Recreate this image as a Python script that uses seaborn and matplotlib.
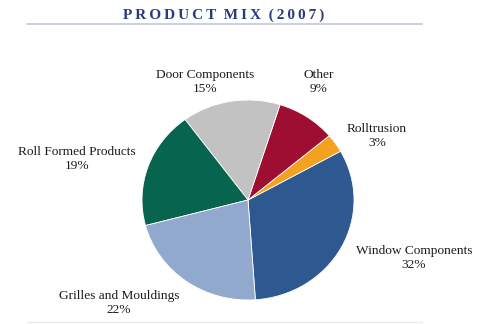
import matplotlib
matplotlib.use("Agg")
import matplotlib.pyplot as plt
import seaborn as sns

sns.set_style("white")
plt.rcParams['font.family'] = ['Liberation Serif', 'DejaVu Serif']

categories = ["Window Components", "Rolltrusion", "Other", "Door Components",
              "Roll Formed Products", "Grilles and Mouldings"]
values = [32, 3, 9, 15, 19, 22]
colors = ["#2E5890", "#F4A020", "#9E0E32", "#C2C2C2", "#07644F", "#91A9CD"]
title = "PRODUCT MIX (2007)"
# label anchor positions in pixels (x, y from top)
label_pos = [(414, 258), (377, 136), (319, 82), (205, 82), (77, 159), (119, 303)]

W, H = 479, 324
fig = plt.figure(figsize=(W / 100, H / 100), dpi=100)
cx, cy, rx, ry = 248, 200, 106, 100
ax = fig.add_axes([(cx - rx) / W, 1 - (cy + ry) / H, 2 * rx / W, 2 * ry / H])
ax.pie(values, colors=colors, startangle=-86, counterclock=True,
       wedgeprops=dict(edgecolor="white", linewidth=0.6))
ax.set_aspect('auto')
ax.set_xlim(-1, 1)
ax.set_ylim(-1, 1)
ax.axis('off')

for cat, v, (px, py) in zip(categories, values, label_pos):
    fig.text(px / W, 1 - py / H, f"{cat}\n{v}%", ha='center', va='center',
             fontsize=9.6, color="#1a1a1a", linespacing=1.3)

spaced = "\u2009".join(title).replace("\u2009 \u2009", "  ")
fig.text(224 / W, 1 - 15 / H, spaced, ha='center', va='center',
         fontsize=11, fontweight='bold', color="#2B3A7A")
fig.add_artist(plt.Line2D([27 / W, 422 / W], [1 - 23.5 / H, 1 - 23.5 / H],
                          color="#C9CCDC", linewidth=1.3))
fig.add_artist(plt.Line2D([27 / W, 422 / W], [1 - 322 / H, 1 - 322 / H],
                          color="#ECECF0", linewidth=1.0))

fig.savefig("out.png", dpi=100)
